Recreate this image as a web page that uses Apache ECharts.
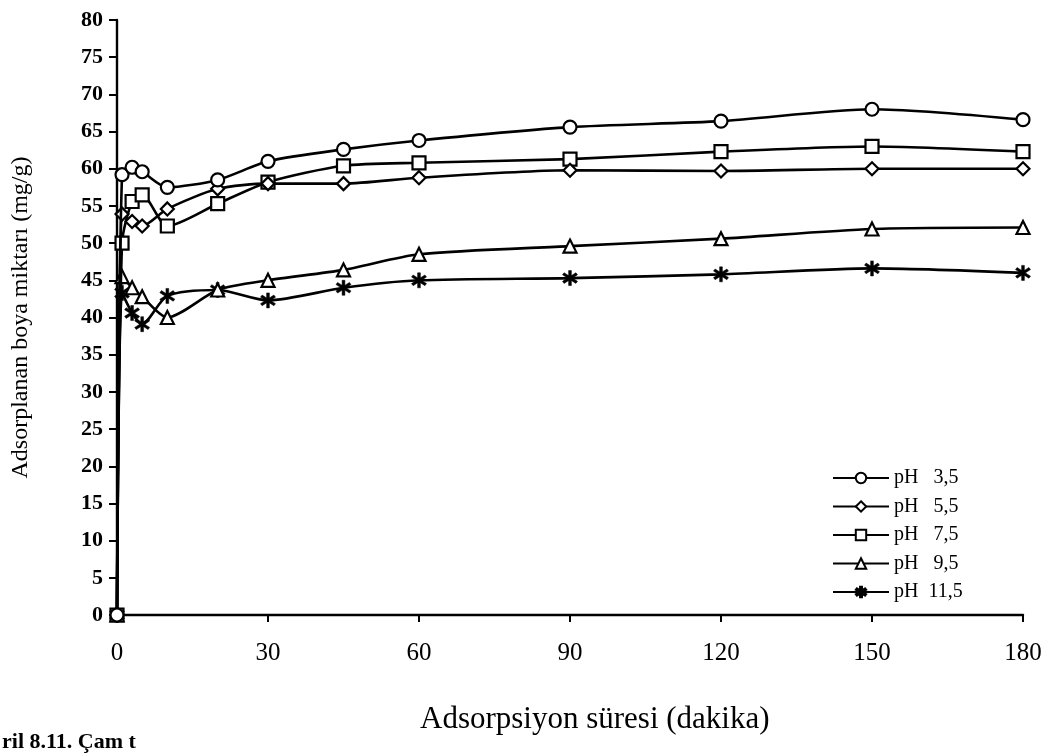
<!DOCTYPE html>
<html>
<head>
<meta charset="utf-8">
<script src="https://cdn.jsdelivr.net/npm/echarts@6/dist/echarts.min.js"></script>
<style>
html,body{margin:0;padding:0;background:#fff;}
#chart{width:1045px;height:753px;}
</style>
</head>
<body>
<div id="chart"></div>
<script>
// Time (min)
const times = [0, 1, 3, 5, 10, 20, 30, 45, 60, 90, 120, 150, 180];
// Adsorbed dye amount (mg/g)
const ph35  = [0, 59.2, 60.2, 59.6, 57.5, 58.5, 61.0, 62.6, 63.8, 65.6, 66.4, 68.0, 66.6];
const ph55  = [0, 53.9, 52.9, 52.3, 54.6, 57.3, 58.0, 58.0, 58.8, 59.8, 59.7, 60.0, 60.0];
const ph75  = [0, 50.0, 55.6, 56.5, 52.3, 55.3, 58.2, 60.4, 60.8, 61.3, 62.3, 63.0, 62.3];
const ph95  = [0, 45.5, 44.0, 42.8, 40.0, 43.7, 45.0, 46.4, 48.5, 49.6, 50.6, 51.9, 52.1];
const ph115 = [0, 43.3, 40.6, 39.1, 42.9, 43.7, 42.3, 44.0, 45.0, 45.3, 45.8, 46.6, 46.0];
const seriesNames = ['pH   3,5', 'pH   5,5', 'pH   7,5', 'pH   9,5', 'pH  11,5'];
const xTicks = [0, 30, 60, 90, 120, 150, 180];
const yTicks = [0, 5, 10, 15, 20, 25, 30, 35, 40, 45, 50, 55, 60, 65, 70, 75, 80];

// asterisk symbol built from three bars
function bar(angleDeg, L, w) {
  const a = angleDeg * Math.PI / 180;
  const dx = Math.sin(a), dy = Math.cos(a);
  const nx = dy, ny = -dx;
  const p = [
    [dx * L + nx * w, dy * L + ny * w],
    [dx * L - nx * w, dy * L - ny * w],
    [-dx * L - nx * w, -dy * L - ny * w],
    [-dx * L + nx * w, -dy * L + ny * w]
  ];
  return 'M' + p.map(q => q[0].toFixed(3) + ',' + q[1].toFixed(3)).join('L') + 'Z';
}
const asterisk = 'path://' + bar(0, 1, 0.17) + bar(55, 1, 0.17) + bar(-55, 1, 0.17);

const font = '"Liberation Serif", "DejaVu Serif", serif';
const sets = [ph35, ph55, ph75, ph95, ph115];
const symbols = ['circle', 'diamond', 'rect', 'triangle', asterisk];
const sizes = [13, 13, 13, 13, 15];

const series = sets.map((vals, i) => ({
  name: seriesNames[i],
  type: 'line',
  smooth: 0.25,
  data: times.map((t, k) => [t, vals[k]]),
  symbol: symbols[i],
  symbolSize: sizes[i],
  lineStyle: {color: '#000', width: 2.6},
  itemStyle: i === 4
    ? {color: '#000', borderColor: '#000', borderWidth: 0.5}
    : {color: '#fff', borderColor: '#000', borderWidth: 2.2},
  z: 5 - i
}));

const chart = echarts.init(document.getElementById('chart'), null, {renderer: 'canvas'});
chart.setOption({
  backgroundColor: '#fff',
  animation: false,
  grid: {left: 117, right: 22, top: 20, bottom: 138, containLabel: false},
  xAxis: {
    type: 'value', min: 0, max: 180, interval: 30,
    axisLine: {show: true, onZero: false, lineStyle: {color: '#000', width: 2.4}},
    axisTick: {show: true, inside: false, length: 7, lineStyle: {color: '#000', width: 2}},
    axisLabel: {margin: 26, fontFamily: font, fontSize: 25, color: '#000',
      formatter: v => xTicks.indexOf(v) >= 0 ? String(v) : ''},
    splitLine: {show: false}
  },
  yAxis: {
    type: 'value', min: 0, max: 80, interval: 5,
    name: 'Adsorplanan boya miktarı (mg/g)', nameLocation: 'middle', nameGap: 84,
    nameTextStyle: {fontFamily: font, fontSize: 24, color: '#000'},
    axisLine: {show: true, lineStyle: {color: '#000', width: 2.4}},
    axisTick: {show: true, inside: false, length: 8, lineStyle: {color: '#000', width: 2}},
    axisLabel: {margin: 14, fontFamily: font, fontSize: 22, fontWeight: 'bold', color: '#000',
      formatter: v => yTicks.indexOf(v) >= 0 ? String(v) : ''},
    splitLine: {show: false}
  },
  legend: {
    orient: 'vertical', left: 827, top: 463,
    itemWidth: 56, itemHeight: 13, itemGap: 8.5,
    textStyle: {fontFamily: font, fontSize: 20, color: '#000', lineHeight: 20},
    data: seriesNames
  },
  graphic: [{
    type: 'text', left: 420, top: 704,
    style: {text: 'Adsorpsiyon süresi (dakika)', font: '31px ' + font, fill: '#000'}
  }, {
    type: 'text', left: 2, top: 731,
    style: {text: 'ril 8.11. Çam t', font: 'bold 22px ' + font, fill: '#000'}
  }],
  series: series
});
</script>
</body>
</html>
